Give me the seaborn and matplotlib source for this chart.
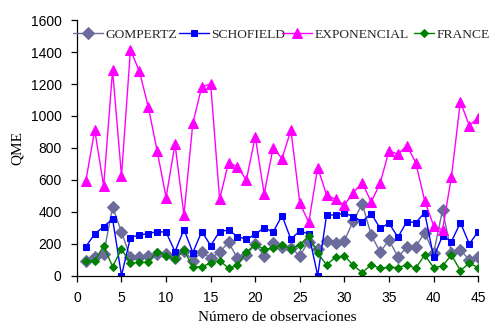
import matplotlib
matplotlib.use("Agg")
import matplotlib.pyplot as plt
import seaborn as sns
import pandas as pd
import numpy as np

obs = list(range(1, 46))
gompertz = [90, 117, 135, 433, 273, 115, 115, 125, 137, 137, 110, 158, 96, 150, 110,
            148, 210, 110, 131, 198, 127, 204, 183, 173, 127, 215, 167, 219, 204, 221,
            344, 450, 256, 148, 225, 117, 179, 183, 271, 142, 412, 142, 162, 100, 117]
schofield = [183, 262, 308, 356, 2, 240, 256, 265, 277, 273, 152, 290, 146, 277, 190,
             277, 287, 246, 229, 260, 302, 273, 377, 229, 283, 260, 2, 381, 381, 392,
             371, 340, 390, 298, 329, 242, 340, 333, 396, 117, 250, 215, 333, 200, 277]
exponencial = [594, 912, 562, 1287, 625, 1412, 1281, 1058, 781, 490, 825, 381, 954, 1183, 1200,
               479, 708, 683, 600, 871, 512, 802, 733, 912, 454, 335, 677, 506, 479, 444,
               521, 583, 462, 579, 783, 760, 815, 708, 469, 315, 287, 621, 1090, 940, 990]
france = [90, 96, 187, 58, 167, 79, 85, 85, 152, 127, 104, 162, 54, 58, 79,
          96, 48, 65, 150, 194, 167, 173, 194, 170, 194, 250, 142, 69, 117, 125,
          65, 21, 69, 48, 54, 52, 69, 48, 131, 52, 62, 131, 33, 79, 52]

series_names = ["GOMPERTZ", "SCHOFIELD", "EXPONENCIAL", "FRANCE"]
df = pd.DataFrame({
    "obs": obs * 4,
    "QME": gompertz + schofield + exponencial + france,
    "serie": sum([[n] * len(obs) for n in series_names], []),
})

sns.set_theme(style="ticks")
plt.rcParams["font.family"] = ["Liberation Serif", "DejaVu Serif"]
sans = ["Liberation Sans", "DejaVu Sans"]

W, H = 493, 334
fig = plt.figure(figsize=(W / 100, H / 100), dpi=100)
ax = fig.add_axes([0.156, 0.174, 0.814, 0.766])

palette = {"GOMPERTZ": "#6C6C9C", "SCHOFIELD": "#0000FF",
           "EXPONENCIAL": "#FF00FF", "FRANCE": "#008000"}
markers = {"GOMPERTZ": "D", "SCHOFIELD": "s", "EXPONENCIAL": "^", "FRANCE": "D"}
sizes = {"GOMPERTZ": 6.5, "SCHOFIELD": 4.6, "EXPONENCIAL": 6.8, "FRANCE": 4.2}

for name in series_names:
    sub = df[df["serie"] == name]
    sns.lineplot(data=sub, x="obs", y="QME", ax=ax, color=palette[name],
                 marker=markers[name], markersize=sizes[name],
                 markeredgecolor=palette[name], linewidth=1.0, label=name,
                 legend=False)

ax.set_xlim(0, 45)
ax.set_ylim(0, 1600)
ax.set_xticks(range(0, 46, 5))
ax.set_yticks(range(0, 1601, 200))
for s in ["top", "right"]:
    ax.spines[s].set_visible(False)
for s in ["left", "bottom"]:
    ax.spines[s].set_color("black")
    ax.spines[s].set_linewidth(0.9)
ax.tick_params(axis="both", direction="out", length=4, width=0.9, colors="black",
               labelsize=10, pad=7)
for lab in ax.get_xticklabels() + ax.get_yticklabels():
    lab.set_family(sans)

ax.set_xlabel("Número de observaciones", fontsize=11, labelpad=4, color="black")
ax.set_ylabel("QME", fontsize=11, labelpad=5, color="black")

# legend entries placed in one row across the top
handles, labels = ax.get_legend_handles_labels()
leg_x = {"GOMPERTZ": 73, "SCHOFIELD": 179, "EXPONENCIAL": 282, "FRANCE": 414}
leg_len = {"GOMPERTZ": 2.2, "SCHOFIELD": 2.2, "EXPONENCIAL": 2.2, "FRANCE": 1.5}
for h, l in zip(handles, labels):
    fig.legend([h], [l], loc="center left",
               bbox_to_anchor=(leg_x[l] / W, 1 - 35 / H),
               frameon=False, fontsize=9.7, handlelength=leg_len[l],
               handletextpad=0.2, borderaxespad=0, borderpad=0)

fig.savefig("out.png", dpi=100)
